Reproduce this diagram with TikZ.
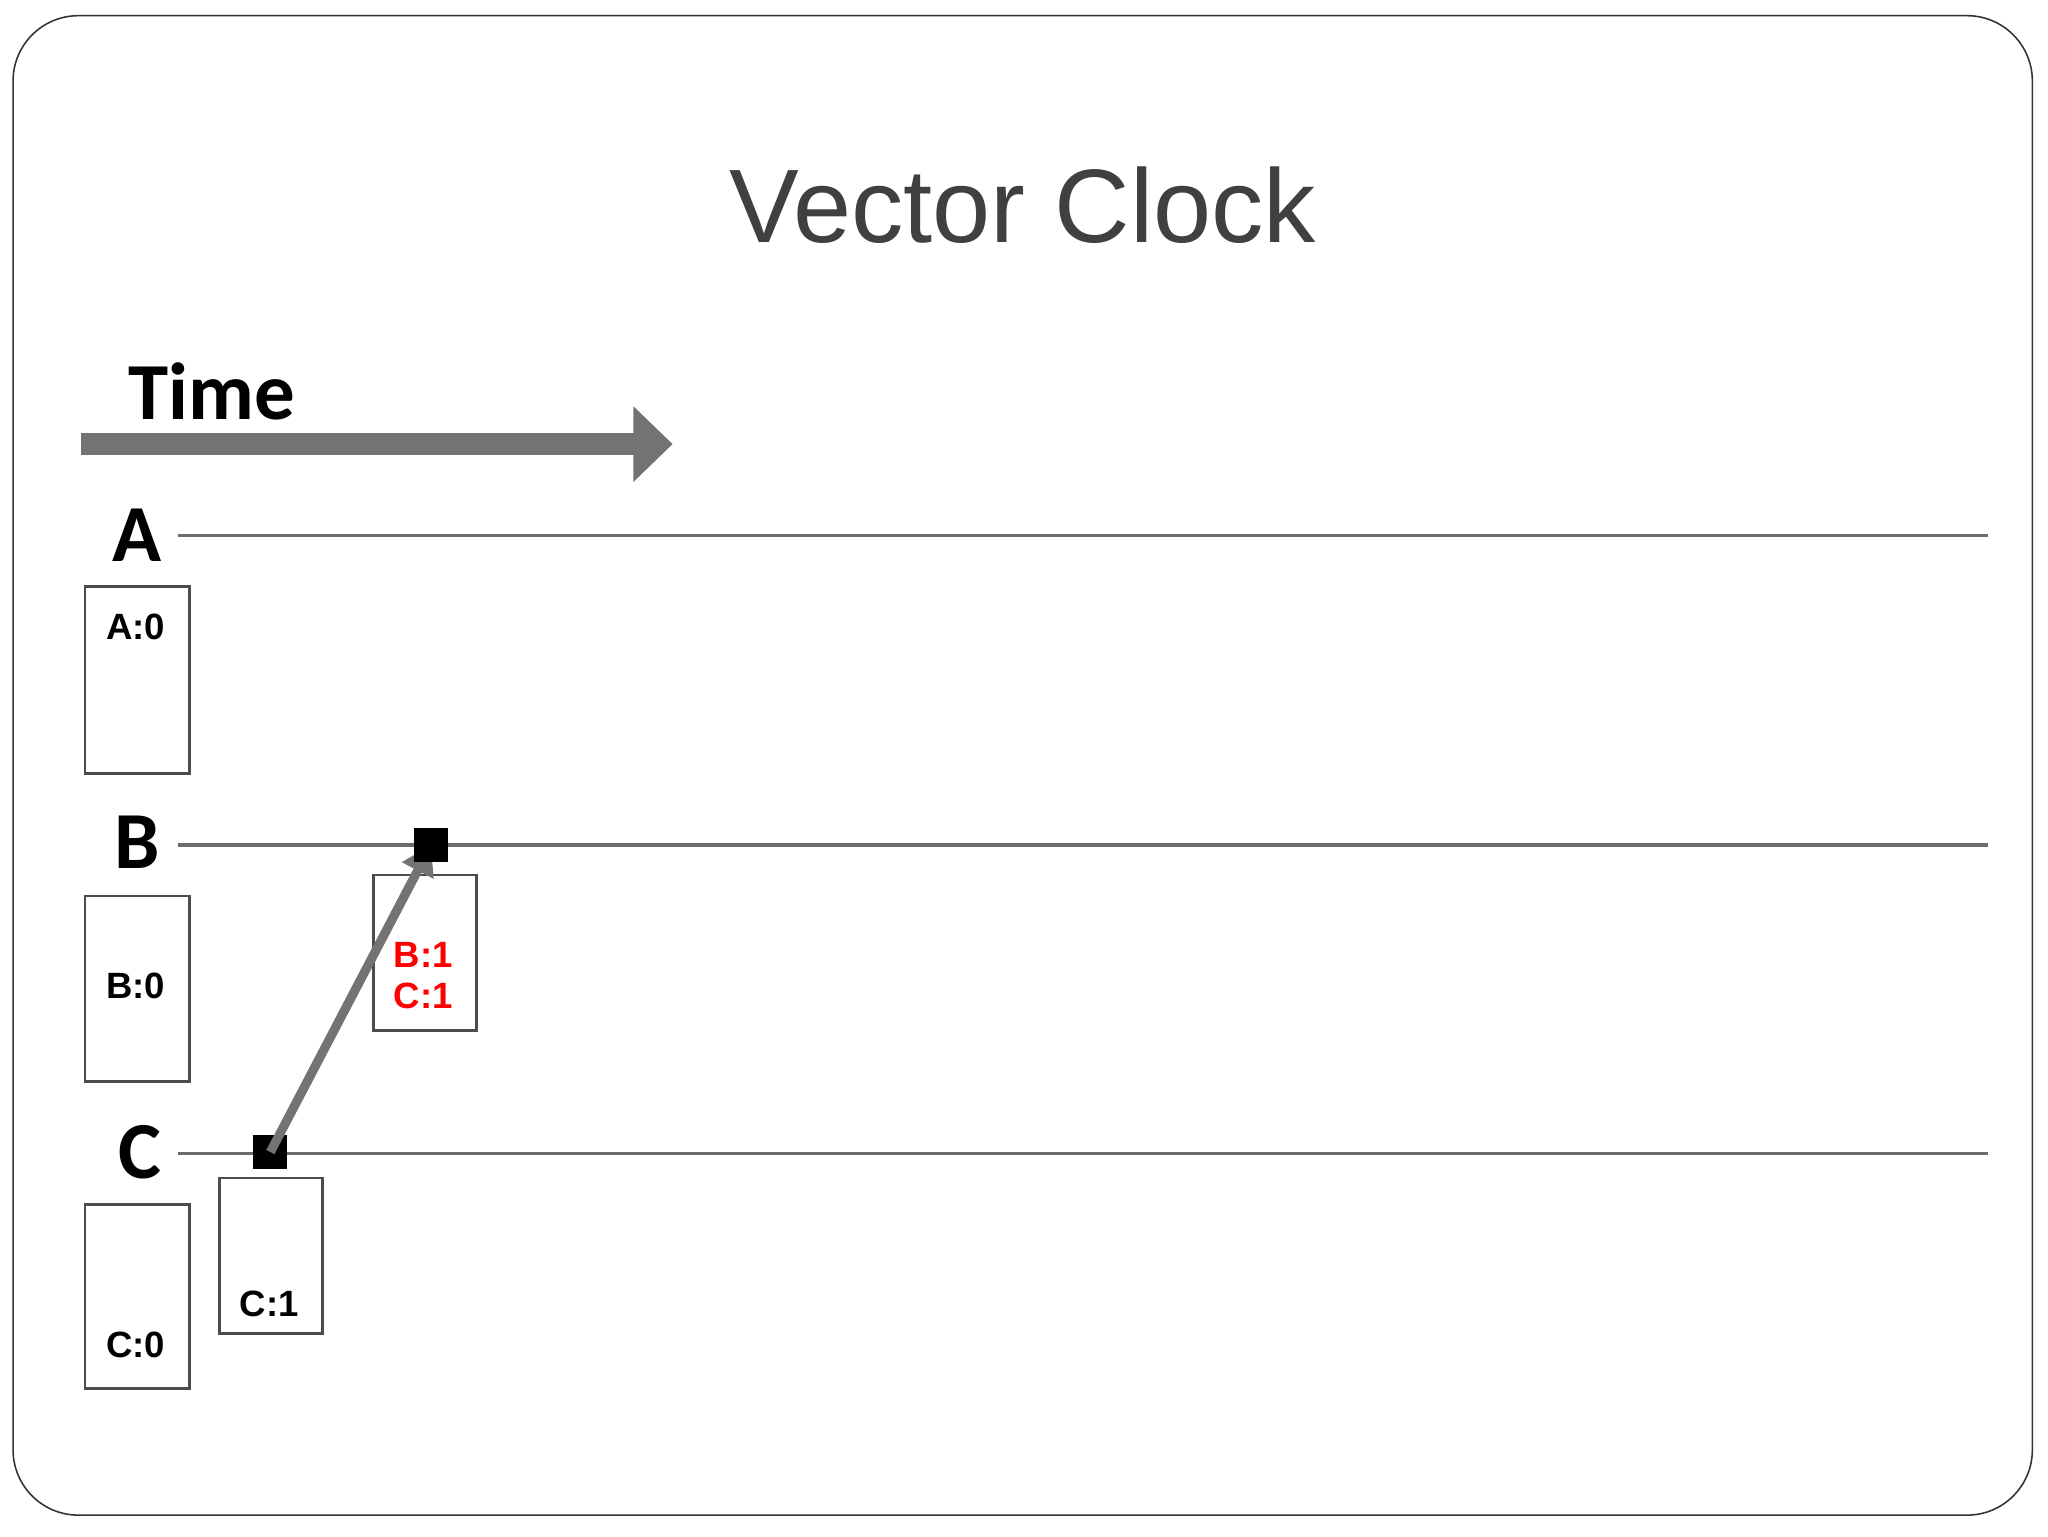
\documentclass[tikz,border=0pt]{standalone}
\usepackage{fontspec}
\setmainfont{Liberation Sans}
\newfontfamily\calfont{Carlito}
\usetikzlibrary{arrows.meta}
\begin{document}
\begin{tikzpicture}[x=1pt,y=-1pt,
  lane/.style={draw=gray!85!black,line width=2.5pt},
  clk/.style={draw=black!70,line width=2pt,minimum width=80pt,inner sep=0pt},
  lbl/.style={font=\calfont\bfseries\fontsize{62}{62}\selectfont},
  vtxt/.style={font=\bfseries\fontsize{28}{30}\selectfont},
  ev/.style={fill=black,minimum size=26pt,inner sep=0pt}]
\useasboundingbox (0,0) rectangle (1568,1176);
\draw[black!80,line width=1.2pt,rounded corners=50pt] (10,12) rectangle (1556,1160);
\node (title) at (783,157) {\color{black!75}\fontsize{80}{80}\selectfont Vector Clock};
\node[lbl] (time) at (162,300) {Time};
\coordinate (ts) at (62,340); \coordinate (te) at (515,340);
\draw[gray!90!black,line width=17pt,-{Triangle[length=30pt,width=56pt]}] (ts) -- (te);
\node[lbl] (A) at (105,410) {A};
\node[lbl] (B) at (105,645) {B};
\node[lbl] (C) at (107,882) {C};
\coordinate (a1) at (136,410); \coordinate (a2) at (1522,410);
\coordinate (b1) at (136,647); \coordinate (b2) at (1522,647);
\coordinate (c1) at (136,883); \coordinate (c2) at (1522,883);
\draw[lane] (a1)--(a2); \draw[lane] (b1)--(b2); \draw[lane] (c1)--(c2);
\node[clk,minimum height=143pt] (bA) at (105,520.5) {};
\node[vtxt] (tA) at (104,480) {A:0};
\node[clk,minimum height=142pt] (bB) at (105,757) {};
\node[vtxt] (tB) at (104,755) {B:0};
\node[clk,minimum height=141pt] (bC) at (105,992.5) {};
\node[vtxt] (tC) at (104,1030) {C:0};
\node[clk,minimum height=119pt,minimum width=79pt] (bC1) at (207.5,961.5) {};
\node[vtxt] (tC1) at (206,998) {C:1};
\node[clk,minimum height=119pt,minimum width=79pt] (bB1) at (325.5,729.5) {};
\node[vtxt,text=red,align=center] (tB1) at (324,747) {B:1\\[2pt]C:1};
\node[ev] (e1) at (207,882) {};
\node[ev] (e2) at (330,647) {};
\draw[gray!90!black,line width=7pt,-{Triangle[length=22pt,width=26pt]}] (e1.center) -- (e2.center);
\node[ev] at (330,647) {};
\end{tikzpicture}
\end{document}
